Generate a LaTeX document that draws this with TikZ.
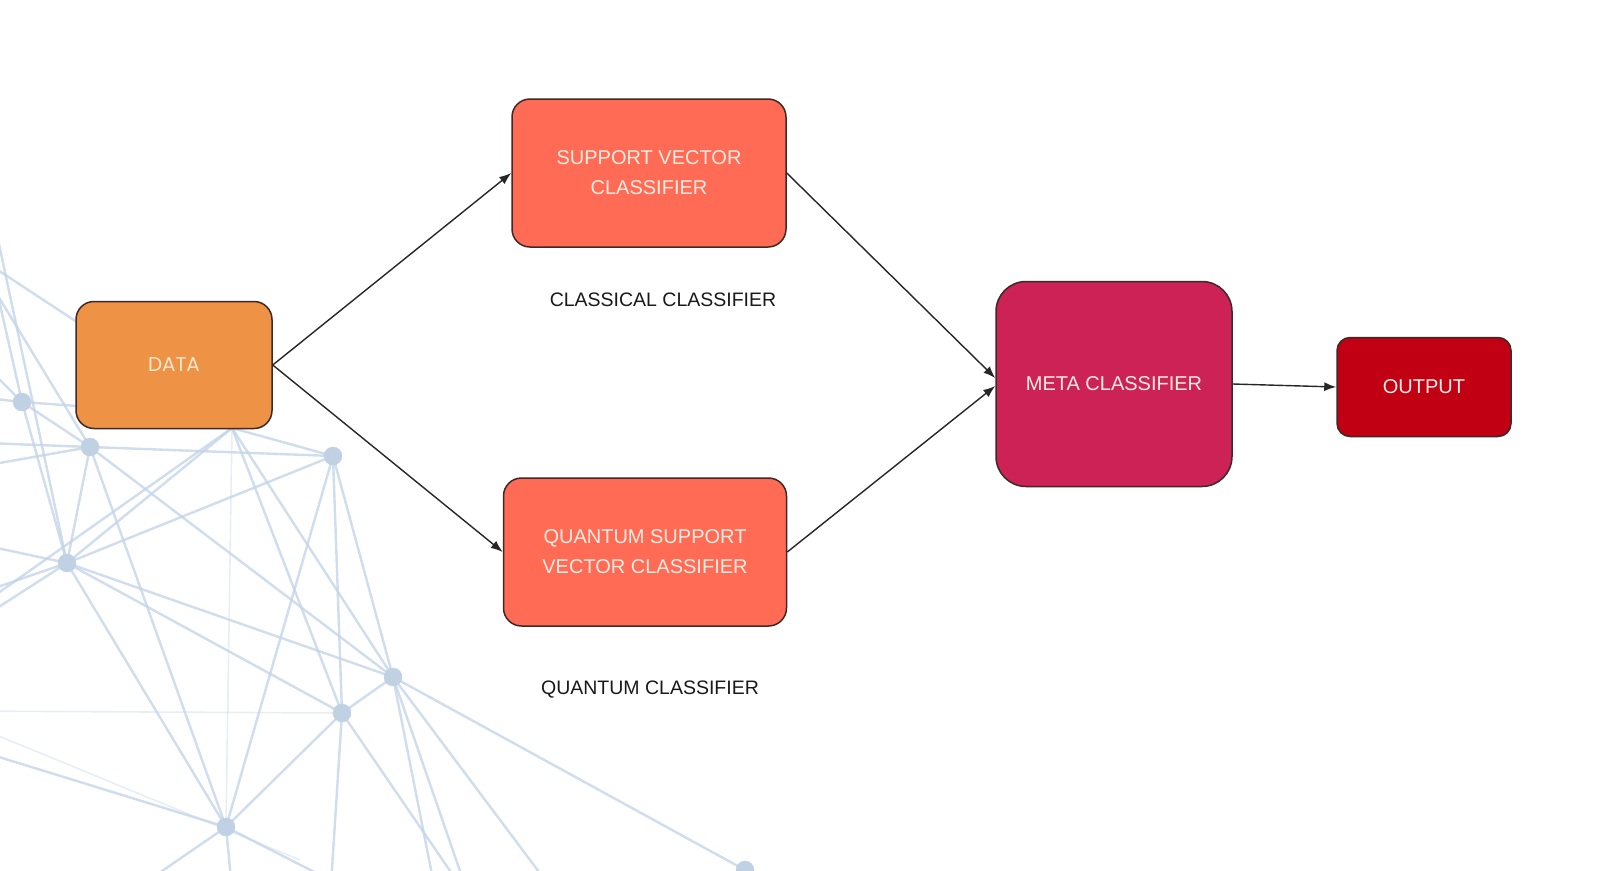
\documentclass[tikz,border=0pt]{standalone}
\usepackage{fontspec}
\setmainfont{Liberation Sans}
\newfontfamily\datafont{Poppins}
\usetikzlibrary{arrows.meta}

\definecolor{dataorange}{RGB}{238,146,69}
\definecolor{svccoral}{RGB}{255,107,84}
\definecolor{metapink}{RGB}{204,34,86}
\definecolor{outred}{RGB}{194,0,20}
\definecolor{boxedge}{RGB}{62,40,40}
\definecolor{boxtext}{RGB}{255,236,226}
\definecolor{netblue}{RGB}{196,212,232}
\definecolor{netdot}{RGB}{192,209,228}

\tikzset{
  box/.style={draw=boxedge, line width=1.5pt, rounded corners=18pt,
    align=center, inner sep=0pt, text=boxtext,
    font=\fontsize{20}{30}\selectfont},
  caption/.style={font=\fontsize{19.5}{24}\selectfont, text=black!90},
  link/.style={draw=black!85, line width=1.4pt, -{Latex[length=12pt,width=9pt]}},
  netline/.style={draw=netblue, line width=2.4pt, opacity=0.8},
  faintline/.style={draw=netblue, line width=1.6pt, opacity=0.4},
}

\begin{document}
\begin{tikzpicture}[%
      x=1pt, y=-1pt,
      ]
      \useasboundingbox (0,0) rectangle (1600,870);

      % background network
      \begin{scope}
      \clip (0,0) rectangle (1600,870);
      \coordinate (n1) at (22,402);
      \coordinate (n2) at (90,447);
      \coordinate (n3) at (333,456);
      \coordinate (n4) at (67,563);
      \coordinate (n5) at (393,677);
      \coordinate (n6) at (342,713);
      \coordinate (n7) at (226,827);
      \coordinate (n8) at (745,870);
      \coordinate (b1) at (232,428);
      \coordinate (b2) at (77,406);

      \draw [netline] (-60,232) -- (150,370);
      \draw [netline] (-4,230) -- (n4);
      \draw [netline] (-10,260) -- (n1);
      \draw [netline] (-30,250) -- (n2);
      \foreach \a/\b in {n1/n2, n1/n4, n1/b2, n2/n3, n2/n4, n2/n5, n2/n7,
          n3/n4, n3/n5, n3/n6, n3/n7, n3/b1, b1/n4, b1/n5, b1/n6,
          n4/n5, n4/n6, n4/n7, n5/n6, n5/n8, n6/n7}
        \draw [netline] (\a) -- (\b);
      \draw [netline] (n1) -- (-40,395);
      \draw [netline] (n1) -- (-40,340);
      \draw [netline] (n2) -- (-40,442);
      \draw [netline] (n2) -- (-40,470);
      \draw [netline] (b1) -- (-40,620);
      \draw [netline] (n4) -- (-40,540);
      \draw [netline] (n4) -- (-40,600);
      \draw [netline] (n4) -- (-40,632);
      \draw [netline] (n5) -- (437,900);
      \draw [netline] (n5) -- (470,900);
      \draw [netline] (n5) -- (560,900);
      \draw [netline] (n6) -- (330,900);
      \draw [netline] (n6) -- (470,900);
      \draw [netline] (n7) -- (-40,745);
      \draw [netline] (n7) -- (233,900);
      \draw [netline] (n7) -- (120,900);
      \draw [netline] (n7) -- (330,880);
      \draw [netline] (n8) -- (700,900);
      \draw [netline] (n8) -- (830,900);
      \draw [faintline] (b1) -- (n7);
      \draw [faintline] (-40,711) -- (n6);
      \draw [faintline] (-40,720) -- (300,860);

      \foreach \n in {n1,n2,n3,n4,n5,n6,n7,n8}
        \filldraw [netdot] (\n) circle (9pt);
      \end{scope}

      % blocks
      \node [box, fill=dataorange, minimum width=196pt, minimum height=127pt,
        font=\datafont\fontsize{20}{30}\selectfont, text={rgb,255:red,253;green,232;blue,205}]
        (data) at (174,365) {DATA};
      \node [box, fill=svccoral, minimum width=274pt, minimum height=148pt]
        (svc) at (649,173) {SUPPORT VECTOR\\CLASSIFIER};
      \node [box, fill=svccoral, minimum width=283pt, minimum height=148pt]
        (qsvc) at (645,552) {QUANTUM SUPPORT\\VECTOR CLASSIFIER};
      \node [box, fill=metapink, rounded corners=30pt,
        minimum width=236pt, minimum height=205pt]
        (meta) at (1114,384) {META CLASSIFIER};
      \node [box, fill=outred, rounded corners=13pt,
        minimum width=174pt, minimum height=99pt]
        (output) at (1424,387) {OUTPUT};

      \node [caption] (classical) at (663,300) {CLASSICAL CLASSIFIER};
      \node [caption] (quantum) at (650,690) {QUANTUM CLASSIFIER};

      % connectors
      \draw [link] (data.east) -- (svc.west);
      \draw [link] (data.east) -- (qsvc.west);
      \draw [link] (svc.east) -- ([yshift=6pt]meta.west);
      \draw [link] (qsvc.east) -- ([yshift=-2pt]meta.west);
      \draw [link] (meta.east) -- (output.west);
      \end{tikzpicture}
\end{document}
